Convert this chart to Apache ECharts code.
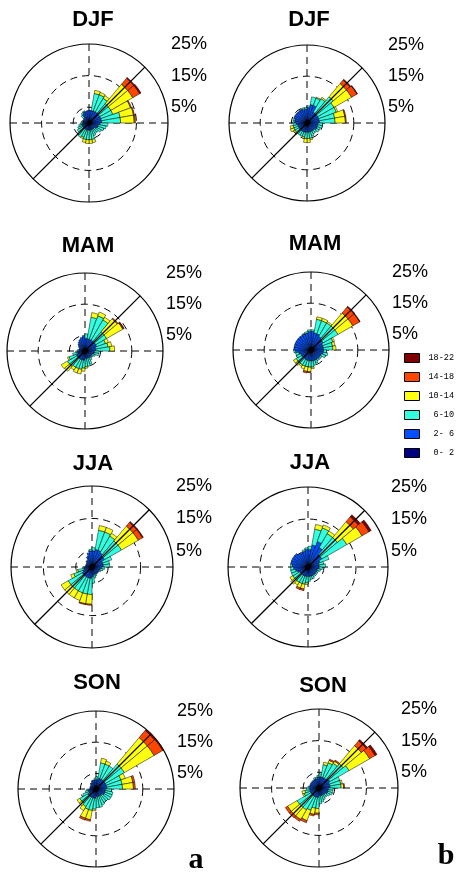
<!DOCTYPE html>
<html><head><meta charset="utf-8">
<script src="https://cdn.jsdelivr.net/npm/echarts@6/dist/echarts.min.js"></script>
<style>html,body{margin:0;padding:0;background:#fff}#c{width:456px;height:874px}</style>
</head><body><div id="c"></div>
<script>
// 36 direction sectors of 10 degrees, clockwise from north
const DIRECTIONS = ['0','10','20','30','40','50','60','70','80','90','100','110','120','130','140','150','160','170',
  '180','190','200','210','220','230','240','250','260','270','280','290','300','310','320','330','340','350'];
const BINS = ['0-2','2-6','6-10','10-14','14-18','18-22'];
const BIN_LABELS = {'0-2':' 0- 2','2-6':' 2- 6','6-10':' 6-10','10-14':'10-14','14-18':'14-18','18-22':'18-22'};
const BIN_COLORS = ['#000080','#0050ff','#30ffe0','#ffff10','#ff4500','#800000'];
const RING_LABELS = [5, 15, 25];
const SEASONS = ['DJF','MAM','JJA','SON'];
const PANELS = ['a','b'];

// frequency (%) per speed bin, rows = bins 0-2 ... 18-22, columns = 36 sectors
const DJF_A = [
 [1,1,1,1,1,1,1,1,1,1, 1,1,0.8,0.8,0.8,0.8,0.8,0.8,0.8,0.8, 0.8,0.8,0.8,0.8,0.8,0.8,0.8,0.8,0.8,0.8, 0.8,0.8,0.8,0.8,0.8,1],
 [3,3,3,3,3,3,3,3,3,2.5, 2,2,2,1.5,1.5,1.5,1.5,1.5,1.5,1.5, 1.5,1.5,1.5,1.5,1.5,1.5,1.2,1.2,1.2,1.2, 1.2,1.5,2.5,3,3,3],
 [0,5.5,5.5,5,4,4,4,6,6,2.5, 2.5,2,1.7,1.5,1.5,2,3,3,3,3, 2.5,3,2.5,2,1.5,1,0.8,0.5,0.3,0, 0,1,0.5,0.3,0,0],
 [0,1,0.8,1,8,8,6,4.3,4.3,0, 0,0,0,0,0,0,1,1.2,1.2,1, 0.5,0,0,0,0,0,0,0,0,0, 0,0,0,0,0,0],
 [0,0,0,0,2.5,2.5,0.3,0.3,0.4,0, 0,0,0,0,0,0,0,0,0,0, 0,0,0,0,0,0,0,0,0,0, 0,0,0,0,0,0],
 [0,0,0,0,0.3,0.5,0,0,0,0, 0,0,0,0,0,0,0,0,0,0, 0,0,0,0,0,0,0,0,0,0, 0,0,0,0,0,0]
];
const DJF_B = [
 [1,1,1,1,1,1,1,1,1,1, 1,1,1,1,1,1,1,1,1,1, 1,1,1,1,1,1,1,1,1,1, 1,1,1,1,1,1],
 [4,5,5,3,3,3,3,3,3,2.5, 2.5,2.5,2.5,2,2,2,2,2,2,2, 2,2,2,2,2,2,2.5,3,3,3.5, 3.5,3.5,3.5,3.5,3.5,3.5],
 [0.5,2.5,2.5,5,7,6,6,5,5,1.5, 1.5,1,1,1,1,1.5,2,2,2,1.5, 1.5,1.5,1.5,1.5,1.5,1.5,1,0.5,0.5,0, 0,0,0,0.3,0.5,0.5],
 [0,0,0.3,0.5,5.5,6.5,0.5,3.3,3.3,0, 0,0,0,0,0,0,0.5,1.3,1.3,0.5, 0,0,0,0.5,1.2,1,0,0,0,0, 0,0,0,0,0,0],
 [0,0,0,0,1.5,2,0,0.3,0.3,0, 0,0,0,0,0,0,0,0,0,0, 0,0,0,0,0,0,0,0,0,0, 0,0,0,0,0,0],
 [0,0,0,0,0.3,0.2,0,0,0,0, 0,0,0,0,0,0,0,0,0,0, 0,0,0,0,0,0,0,0,0,0, 0,0,0,0,0,0]
];
const MAM_A = [
 [1,1,1,1,1,1,1,1,1,1, 1,1,1,1,1,1,1,1,1,1, 1,1,1,1,1,1,1,1,1,1, 1,1,1,1,1,1],
 [3,3,3,3,3,3,3,2.5,2.5,2, 2,1.5,1.5,1.5,1.5,1.5,1.5,1.5,2,2, 2,2,2,2,2,1.5,1.5,1,1,1, 1.5,2,2.5,3,3.5,4],
 [1.5,7,8,7.5,4,4,3,4,4.5,1.5, 1.5,1,0.5,0.5,1,2,2.5,2.5,2.5,3, 3,3,3.5,3.5,2.5,1.5,0.5,0.5,0,0, 0,0,0,0,0,0],
 [0,1.5,1.3,1,5.5,6,1,1.2,1.5,0, 0,0,0,0,0,0,0,0.5,1,1.5, 1.5,1,2,2.3,0.5,0,0,0,0,0, 0,0,0,0,0,0],
 [0,0,0,0,0.3,0.3,0,0,0,0, 0,0,0,0,0,0,0,0,0,0, 0,0,0,0,0,0,0,0,0,0, 0,0,0,0,0,0],
 [0,0,0,0,0,0.2,0,0,0,0, 0,0,0,0,0,0,0,0,0,0, 0,0,0,0,0,0,0,0,0,0, 0,0,0,0,0,0]
];
const MAM_B = [
 [1,1,1,1,1,1,1,1,1,1, 1,1,1,1,1,1,1,1,1,1, 1,1,1,1,1,1,1,1,1,1, 1,1,1,1,1,1],
 [5,4.5,4.5,4,3.5,3.5,3,3,3,3, 3,2.5,2.5,2.5,2.5,2.5,2.5,2.5,2.5,2.5, 2.5,2.5,2.5,2.5,2.5,3,4,4.5,4.5,4.5, 4.5,4.5,4.5,4.5,4.5,5],
 [0.5,4.5,4.5,5,5.5,5.5,3.5,3,3,1, 1.5,1.5,0.5,0.5,0.5,1,1.5,2,2,2, 2,2,2,2,1.5,1,0.5,0,0,0, 0,0,0,0.3,0.5,0.5],
 [0,0.8,0.8,0.5,5.5,5.5,0.5,0.8,1,0, 0,0,0,0,0,0,0,0.5,1.5,1.5, 1,0.5,1,1,0,0,0,0,0,0, 0,0,0,0,0,0],
 [0,0,0,0,2.5,2.5,0,0,0,0, 0,0,0,0,0,0,0,0,0.3,0.5, 0,0,0,0,0,0,0,0,0,0, 0,0,0,0,0,0],
 [0,0,0,0,0.3,0.2,0,0,0,0, 0,0,0,0,0,0,0,0,0,0, 0,0,0,0,0,0,0,0,0,0, 0,0,0,0,0,0]
];
const JJA_A = [
 [1,1,1,1,1,1,1,1,1,1, 1,1,1,1,1,1,1,1,1,1, 1,1,1,1,1,1,1,1,1,1, 1,1,1,1,1,1],
 [4,4.5,4.5,4,3.5,3.5,2.5,2.5,2.5,2, 1.5,1.5,1.5,1.5,1.5,1.5,1.5,2,2.5,2.5, 2.5,2.5,2.5,2.5,2,1.5,1.5,1,1,1, 1,1.5,1.5,2.5,3.5,4],
 [1,6,6,6,6,6,3,2,2,1, 1,0.5,0,0,0,0.5,1,2,5,5, 5,5,5,5,3,2,0.5,0,0,0, 0,0,0,0,0,0.5],
 [0,1.5,1.5,1,6,6,0,0,0,0, 0,0,0,0,0,0,0,0,3,3, 2.5,2.5,2.5,2.5,1,0.5,0,0,0,0, 0,0,0,0,0,0],
 [0,0,0,0,1.5,1.5,0,0,0,0, 0,0,0,0,0,0,0,0,0.3,0.3, 0,0,0,0,0,0,0,0,0,0, 0,0,0,0,0,0],
 [0,0,0,0,0.3,0.3,0,0,0,0, 0,0,0,0,0,0,0,0,0,0, 0,0,0,0,0,0,0,0,0,0, 0,0,0,0,0,0]
];
const JJA_B = [
 [1,1,1,1,1,1,1,1,1,1, 1,1,1,1,1,1,1,1,1,1, 1,1,1,1,1,1,1,1,1,1, 1,1,1,1,1,1],
 [4.5,6,7.5,6,4,4,3,2.5,2.5,2.5, 2,2,2,2,2,2,2,2,2,2, 2,2,2,2,2.5,3,3.5,4,4.5,4.5, 4.5,4.5,4,4,4,4.5],
 [1,5,4.5,5,7,9,3,1.5,2,1, 1,0.5,0.5,0.5,0.5,1,1,1.5,2,2.5, 2.5,2.5,2.5,2.5,2,1.5,1,0.5,0,0, 0,0,0,0,0.5,0.5],
 [0,1.5,1,1,6.5,5.5,0,0,0,0, 0,0,0,0,0,0,0,0,0.5,1.5, 1.5,1,1.5,1,0,0,0,0,0,0, 0,0,0,0,0,0],
 [0,0,0,0,2,2.5,0,0,0,0, 0,0,0,0,0,0,0,0,0,0.5, 0.5,0,0,0,0,0,0,0,0,0, 0,0,0,0,0,0],
 [0,0,0,0,0.8,0.8,0,0,0,0, 0,0,0,0,0,0,0,0,0,0, 0,0,0,0,0,0,0,0,0,0, 0,0,0,0,0,0]
];
const SON_A = [
 [1,1,1,1,1,1,1,1,1,1, 1,1,1,1,1,1,1,1,1,1, 1,1,1,1,1,1,1,1,1,1, 1,1,1,1,1,1],
 [2,2.5,2.5,2.5,2.5,2.5,2.5,2.5,2.5,2, 2,2,2,1.5,1.5,1.5,1.5,1.5,2,2, 2,2,2,2,1.5,1.5,1.5,1,1,1, 1,1.5,1.5,2,2,2],
 [1,5,5,5,7,7,5,5,5,2, 2.5,2.5,2.5,2.5,2.5,3,3.5,3.5,3.5,4, 4,3.5,3,3,2,1,0.5,0,0,0, 0,0,0,0,0,0.5],
 [0,1.5,1,0,11,11,1.5,3.5,3.5,0, 0,0,0,0,0,0,0,0,0.5,3, 3,1.5,1,1,0,0,0,0,0,0, 0,0,0,0,0,0],
 [0,0,0,0,3,3.2,0,0.6,0.6,0, 0,0,0,0,0,0,0,0,0,0.5, 0.6,0,0,0,0,0,0,0,0,0, 0,0,0,0,0,0],
 [0,0,0,0,0.5,0.3,0,0,0,0, 0,0,0,0,0,0,0,0,0,0, 0,0,0,0,0,0,0,0,0,0, 0,0,0,0,0,0]
];
const SON_B = [
 [1,1,1,1,1,1,1,1,1,1, 1,1,1,1,1,1,1,1,1,1, 1,1,1,1,1,1,1,1,1,1, 1,1,1,1,1,1],
 [2.5,2.5,2.5,2.5,3,3,2.5,2.5,2.5,2, 2,2,2,1.5,1.5,1.5,1.5,1.5,2,2, 2,2,2,2,2,2,2,2,2,2, 2,2,2,2,2,2.5],
 [1,4,5,5.5,6,7,3.5,3.5,3.5,1.5, 1.5,1.5,1,1,1,1.5,2,2.5,3.5,3.5, 4.5,5,5,5,2,1.5,1,0.5,0,0, 0,0,0,0.5,0.5,0.5],
 [0,0.8,0.8,0.8,7.5,7.5,0,0.5,0.8,0, 0,0,0,0,0,0,0,0,1.5,2, 3.5,3.5,3.5,3.5,0.5,1,0,0,0,0, 0,0,0,0,0,0],
 [0,0,0.4,0.4,2,2,0,0,0.3,0, 0,0,0,0,0,0,0,0,0.5,0.5, 0.7,0.7,0.8,0.8,0,0,0,0,0,0, 0,0,0,0,0,0],
 [0,0,0,0,0.5,0.7,0,0,0,0, 0,0,0,0,0,0,0,0,0,0, 0,0,0,0,0,0,0,0,0,0, 0,0,0,0,0,0]
];
const ROSES = [DJF_A, DJF_B, MAM_A, MAM_B, JJA_A, JJA_B, SON_A, SON_B];

// layout (pixels): rose centre, radius, title centre
const LAYOUT = [
 {cx:89,  cy:123, r:79, tx:93,  ty:19},
 {cx:307, cy:123, r:78, tx:309, ty:19},
 {cx:85,  cy:351, r:78, tx:88,  ty:245},
 {cx:311, cy:350, r:78, tx:315, ty:243},
 {cx:92,  cy:567, r:81, tx:93,  ty:463},
 {cx:308, cy:567, r:80, tx:310, ty:462},
 {cx:96,  cy:789, r:78, tx:97,  ty:682},
 {cx:319, cy:788, r:79, tx:323, ty:685}
];
const PANEL_POS = [{x:196, y:859}, {x:446, y:855}];

const SANS = 'Liberation Sans, Arial, Helvetica, sans-serif';
const T = 'rgba(0,0,0,0)';
const polar = [], angleAxis = [], radiusAxis = [], series = [], title = [];

LAYOUT.forEach((L, k) => {
  const base = 3 * k;
  for (let j = 0; j < 3; j++) polar.push({center: [L.cx, L.cy], radius: L.r});
  // bars' polar system: outer solid circle
  angleAxis.push({polarIndex: base, type: 'category', data: DIRECTIONS, startAngle: 90, clockwise: true, boundaryGap: true,
    axisLine: {show: true, lineStyle: {color: '#000', width: 1.2}}, axisTick: {show: false}, axisLabel: {show: false},
    splitLine: {show: false}, z: 1});
  radiusAxis.push({polarIndex: base, type: 'value', min: 0, max: 25, axisLine: {show: false}, axisTick: {show: false},
    axisLabel: {show: false}, splitLine: {show: false}});
  // dashed rings, dashed cross, ring labels
  angleAxis.push({polarIndex: base + 1, type: 'value', min: 0, max: 360, interval: 90, startAngle: 90, clockwise: true,
    axisLine: {show: false}, axisTick: {show: false}, axisLabel: {show: false},
    splitLine: {show: true, lineStyle: {color: '#000', width: 1, type: [7, 5]}}, z: 0});
  radiusAxis.push({polarIndex: base + 1, type: 'value', min: 0, max: 25, interval: 5,
    axisLine: {show: false}, axisTick: {show: false},
    axisLabel: {show: true, interval: 0, showMinLabel: true, showMaxLabel: true, margin: -(L.r + 3), align: 'left', verticalAlign: 'middle',
      fontSize: 18, color: '#000', fontFamily: SANS,
      formatter: v => RING_LABELS.indexOf(v) >= 0 ? v + '%' : ''},
    splitLine: {show: true, lineStyle: {color: [T, '#000', T, '#000', T, T], width: 1, type: [7, 5]}}, z: 0});
  // solid SW-NE diagonal on top of the bars
  angleAxis.push({polarIndex: base + 2, type: 'value', min: 0, max: 360, interval: 180, startAngle: 45, clockwise: true,
    axisLine: {show: false}, axisTick: {show: false}, axisLabel: {show: false},
    splitLine: {show: true, lineStyle: {color: '#000', width: 1.3, type: 'solid'}}, z: 10});
  radiusAxis.push({polarIndex: base + 2, type: 'value', min: 0, max: 25, axisLine: {show: false}, axisTick: {show: false},
    axisLabel: {show: false}, splitLine: {show: false}});

  ROSES[k].forEach((vals, b) => {
    series.push({type: 'bar', coordinateSystem: 'polar', polarIndex: base, stack: 'rose' + k, name: BINS[b],
      data: vals.map(v => v === 0 ? null : v), barCategoryGap: '0%',
      itemStyle: {color: BIN_COLORS[b], borderColor: '#000', borderWidth: 0.5},
      emphasis: {disabled: true}, silent: true, z: 2});
  });

  title.push({text: SEASONS[Math.floor(k / 2)], left: L.tx, top: L.ty - 10, textAlign: 'center', padding: 0,
    textStyle: {fontFamily: SANS, fontWeight: 'bold', fontSize: 22, color: '#000'}});
});
PANELS.forEach((p, i) => {
  title.push({text: p, left: PANEL_POS[i].x, top: PANEL_POS[i].y - 14, textAlign: 'center', padding: 0,
    textStyle: {fontFamily: 'Liberation Serif, Times New Roman, serif', fontWeight: 'bold', fontSize: 30, color: '#000'}});
});

const chart = echarts.init(document.getElementById('c'), null, {renderer: 'canvas'});
chart.setOption({
  animation: false,
  backgroundColor: '#fff',
  title,
  legend: {data: BINS.slice().reverse(), orient: 'vertical', left: 404, top: 353, padding: 0, itemWidth: 15, itemHeight: 9, itemGap: 9,
    icon: 'rect', selectedMode: false, formatter: n => BIN_LABELS[n],
    itemStyle: {borderColor: '#000', borderWidth: 1},
    textStyle: {fontFamily: 'Liberation Mono, DejaVu Sans Mono, monospace', fontSize: 8.5, color: '#000', padding: [0, 0, 0, 4]}},
  polar, angleAxis, radiusAxis, series
});
</script></body></html>
